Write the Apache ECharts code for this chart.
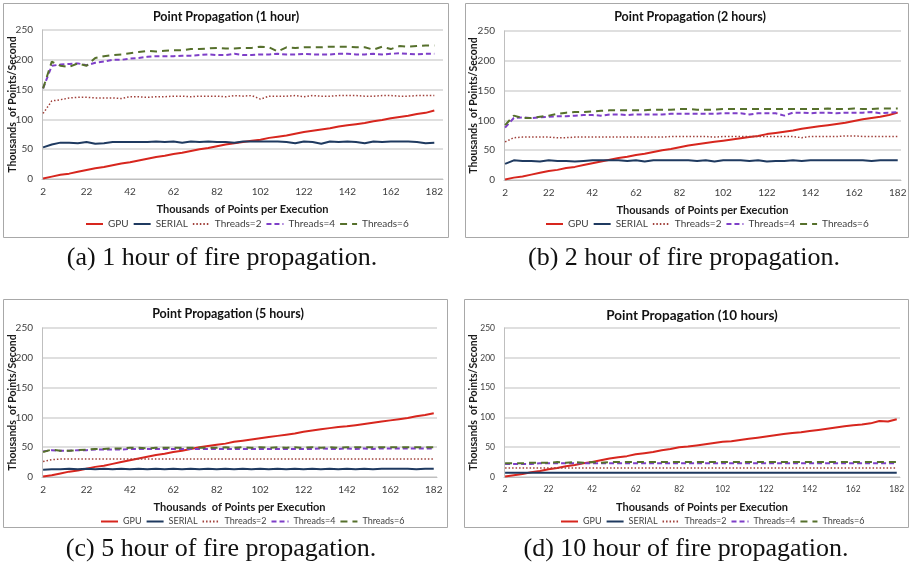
<!DOCTYPE html>
<html><head><meta charset="utf-8">
<script src="https://cdn.jsdelivr.net/npm/echarts@6/dist/echarts.min.js"></script>
<style>html,body{margin:0;padding:0;background:#fff}#c{width:910px;height:573px}</style>
</head><body><div id="c"></div>
<script>
// ---- data ----
const X_POINTS = [2,6,10,14,18,22,26,30,34,38,42,46,50,54,58,62,66,70,74,78,82,86,90,94,98,102,106,110,114,118,122,126,130,134,138,142,146,150,154,158,162,166,170,174,178,182];
const X_TICKS = [2,22,42,62,82,102,122,142,162,182];
const SERIES_NAMES = ['GPU','SERIAL','Threads=2','Threads=4','Threads=6'];
const PANEL_TITLES = ['Point Propagation (1 hour)','Point Propagation (2 hours)','Point Propagation (5 hours)','Point Propagation (10 hours)'];
const CAPTIONS = ['(a) 1 hour of fire propagation.','(b) 2 hour of fire propagation.','(c) 5 hour of fire propagation.','(d) 10 hour of fire propagation.'];
const X_NAME = 'Thousands  of Points per Execution';
const Y_NAME = 'Thousands  of Points/Second';

// 1 hour
const GPU_1H = [1,4,7,9,12,15,18,20,23,26, 28,31,34,37,39,42,44,47,50,52, 55,58,60,62,64,66,69,71,73,76, 79,81,83,85,88,90,92,94,97,99, 102,104,106,109,111,115];
const SERIAL_1H = [53,58,61,61,60,62,59,60,62,62, 62,62,62,63,62,63,61,63,62,63, 62,62,61,63,63,63,63,63,62,60, 63,62,59,63,62,63,62,60,63,62, 63,63,63,62,60,61];
const T2_1H = [110,131,133,136,137,137,136,136,136,135, 138,138,137,138,138,139,139,138,139,139, 139,138,140,139,140,134,139,139,139,140, 138,140,139,139,140,140,140,139,139,140, 140,139,139,140,140,140];
const T4_1H = [152,190,192,193,194,191,195,197,200,200, 202,203,205,206,206,206,207,207,208,209, 208,208,210,208,208,209,209,210,209,209, 210,209,209,209,210,210,209,209,210,209, 210,211,210,209,210,210];
const T6_1H = [152,197,190,188,194,190,203,206,208,209, 211,213,215,214,215,216,216,218,218,219, 220,219,219,220,220,222,221,214,221,220, 221,221,221,222,222,222,221,221,217,222, 218,223,222,223,224,224];
// 2 hours
const GPU_2H = [1,4,6,9,12,15,17,20,22,25, 28,31,34,37,39,42,44,47,50,52, 55,58,60,62,64,66,68,70,72,74, 77,79,81,83,86,88,90,92,94,96, 99,102,104,106,109,113];
const SERIAL_2H = [27,33,32,32,31,33,32,32,31,32, 33,33,33,33,32,33,31,33,33,33, 33,33,32,33,31,33,33,33,32,33, 31,32,32,33,32,33,33,33,33,33, 33,33,32,33,33,33];
const T2_2H = [64,71,72,72,72,72,71,71,72,72, 72,72,72,72,72,72,72,72,72,73, 73,73,73,73,72,73,73,73,73,73, 73,73,73,73,71,73,73,73,73,74, 74,73,73,73,73,73];
const T4_2H = [88,104,105,104,105,106,107,107,108,109, 109,108,110,110,109,110,110,110,110,111, 111,111,111,111,111,112,112,112,110,112, 112,112,108,113,113,112,113,113,112,113, 113,113,114,112,113,114];
const T6_2H = [92,108,104,104,106,108,111,113,114,114, 115,116,117,117,117,117,117,118,118,118, 119,119,118,118,118,119,119,119,119,119, 119,119,119,119,119,119,119,120,119,119, 120,119,119,120,120,120];
// 5 hours
const GPU_5H = [1,3,6,9,11,14,17,19,22,25, 28,31,34,37,39,42,44,47,50,52, 54,56,59,61,63,65,67,69,71,73, 76,78,80,82,84,85,87,89,91,93, 95,97,99,102,104,107];
const SERIAL_5H = [12,13,13,14,13,14,13,14,13,14, 13,14,13,14,13,14,13,14,13,14, 13,14,13,14,13,14,13,14,13,14, 13,14,13,14,13,14,13,14,13,14, 14,14,14,13,14,14];
const T2_5H = [26,29,30,30,30,30,30,30,30,30, 30,30,30,30,30,30,30,30,30,30, 30,30,30,30,30,30,30,30,30,30, 30,30,30,30,30,30,30,30,30,30, 30,30,30,30,30,30];
const T4_5H = [43,45,44,44,45,45,46,46,46,46, 47,47,47,47,47,47,47,47,47,47, 47,47,47,47,47,47,47,47,47,47, 47,47,48,47,47,48,47,48,47,48, 48,48,48,48,48,48];
const T6_5H = [42,46,44,44,45,46,47,47,48,48, 49,49,48,49,49,49,49,49,49,49, 49,50,49,50,49,50,49,50,49,50, 49,50,49,50,49,50,50,50,50,50, 50,50,50,50,50,50];
// 10 hours
const GPU_10H = [1,3,5,8,10,13,15,18,20,23, 25,28,31,33,35,38,40,42,45,47, 50,51,53,55,57,59,60,62,64,66, 68,70,72,74,75,77,79,81,83,85, 87,88,90,94,93,97];
const SERIAL_10H = [7,7,7,7,7,7,7,7,7,7, 7,7,7,7,7,7,7,7,7,7, 7,7,7,7,7,7,7,7,7,7, 7,7,7,7,7,7,7,7,7,7, 7,7,7,7,7,7];
const T2_10H = [15,15,15,15,15,15,15,15,15,15, 15,15,15,15,15,15,15,15,15,15, 15,15,15,15,15,15,15,15,15,15, 15,15,15,15,15,15,15,15,15,15, 15,15,15,15,15,15];
const T4_10H = [22,22,22,22,23,23,23,23,23,23, 23,23,23,23,23,23,23,23,23,23, 23,23,23,23,23,23,23,23,23,23, 23,23,23,23,23,23,23,23,23,23, 23,23,23,23,23,23];
const T6_10H = [23,23,23,24,24,24,25,24,25,24, 25,24,25,25,25,25,25,25,25,25, 25,25,25,25,25,25,25,25,25,25, 25,25,25,25,25,25,25,25,25,25, 25,25,25,25,25,25];

const PANEL_DATA = [
  [GPU_1H, SERIAL_1H, T2_1H, T4_1H, T6_1H],
  [GPU_2H, SERIAL_2H, T2_2H, T4_2H, T6_2H],
  [GPU_5H, SERIAL_5H, T2_5H, T4_5H, T6_5H],
  [GPU_10H, SERIAL_10H, T2_10H, T4_10H, T6_10H]
];

// ---- styles / layout ----
const FONT = 'Lato, "Open Sans", sans-serif';
const STYLES = [
  {color:'#D7261E', width:2, type:'solid'},
  {color:'#1F3A60', width:2, type:'solid'},
  {color:'#A0403A', width:1.5, type:[1.5,2]},
  {color:'#7E3FC8', width:2, type:[5,3]},
  {color:'#56702C', width:2, type:[7,5]}
];
const LAYOUT = [
  {frame:[3,3,445,234], grid:{left:42,top:30,width:401,height:149}, xMax:186, title:[226,17,12.5], legend:[80,214,10,4], caption:[222,258], tick:10, yGap:24},
  {frame:[465,3,443,234], grid:{left:504,top:31,width:397,height:149}, xMax:183.5, title:[690,17,12.5], legend:[540,214,10,4], caption:[684,258], tick:10, yGap:25},
  {frame:[3,299,444,228], grid:{left:42,top:328,width:395,height:149}, xMax:183.5, title:[228,314,12.5], legend:[95,512,9,4], caption:[221,549], tick:10, yGap:24},
  {frame:[464,299,444,228], grid:{left:504,top:328,width:396,height:149}, xMax:183.5, title:[692,316,13.5], legend:[555,512,9,4], caption:[686,549], tick:8.5, yGap:25}
];

const grids = [], xAxes = [], yAxes = [], series = [], legends = [], graphics = [];
LAYOUT.forEach((L, p) => {
  grids.push(Object.assign({containLabel:false}, L.grid));
  xAxes.push({
    type:'value', gridIndex:p, min:1.5, max:L.xMax,
    name:X_NAME, nameLocation:'middle', nameGap:25, nameMoveOverlap:false,
    nameTextStyle:{fontFamily:FONT, fontWeight:'bold', fontSize:11, color:'#1a1a1a'},
    axisLine:{show:true, lineStyle:{color:'#bfbfbf', width:1}},
    axisTick:{show:false},
    splitLine:{show:false},
    axisLabel:{customValues:X_TICKS, fontFamily:FONT, fontSize:L.tick, color:'#404040', margin:8}
  });
  yAxes.push({
    type:'value', gridIndex:p, min:0, max:250, interval:50,
    name:Y_NAME, nameLocation:'middle', nameGap:L.yGap, nameMoveOverlap:false,
    nameTextStyle:{fontFamily:FONT, fontWeight:'bold', fontSize:10.5, color:'#1a1a1a'},
    axisLine:{show:true, lineStyle:{color:'#bfbfbf', width:1}},
    axisTick:{show:false},
    splitLine:{show:true, lineStyle:{color:'#d4d4d4', width:1.5}},
    axisLabel:{fontFamily:FONT, fontSize:L.tick, color:'#404040', margin:9}
  });
  PANEL_DATA[p].forEach((arr, s) => {
    series.push({
      type:'line', name:SERIES_NAMES[s], xAxisIndex:p, yAxisIndex:p,
      symbol:'none', showSymbol:false, animation:false,
      color:STYLES[s].color,
      lineStyle:{color:STYLES[s].color, width:STYLES[s].width, type:STYLES[s].type},
      data:X_POINTS.map((x, i) => [x, arr[i]])
    });
  });
  legends.push({
    data:SERIES_NAMES, left:L.legend[0], top:L.legend[1], width:380,
    itemWidth:17, itemHeight:10, itemGap:L.legend[3],
    selectedMode:false,
    itemStyle:{opacity:0},
    textStyle:{fontFamily:FONT, fontSize:L.legend[2], color:'#404040'}
  });
  graphics.push({type:'rect', shape:{x:L.frame[0]+0.5, y:L.frame[1]+0.5, width:L.frame[2], height:L.frame[3]},
    style:{fill:'none', stroke:'#a8a8a8', lineWidth:1}, silent:true});
  graphics.push({type:'text', x:L.title[0], y:L.title[1],
    style:{text:PANEL_TITLES[p], textAlign:'center', textVerticalAlign:'middle', fill:'#111',
      font:'bold ' + L.title[2] + 'px ' + FONT}});
  graphics.push({type:'text', x:L.caption[0], y:L.caption[1],
    style:{text:CAPTIONS[p], textAlign:'center', textVerticalAlign:'middle', fill:'#111',
      font:'26px "Liberation Serif", "DejaVu Serif", serif'}});
});

const chart = echarts.init(document.getElementById('c'), null, {renderer:'canvas'});
chart.setOption({
  backgroundColor:'#fff',
  animation:false,
  grid:grids, xAxis:xAxes, yAxis:yAxes, series:series, legend:legends,
  graphic:{elements:graphics}
});
</script></body></html>
